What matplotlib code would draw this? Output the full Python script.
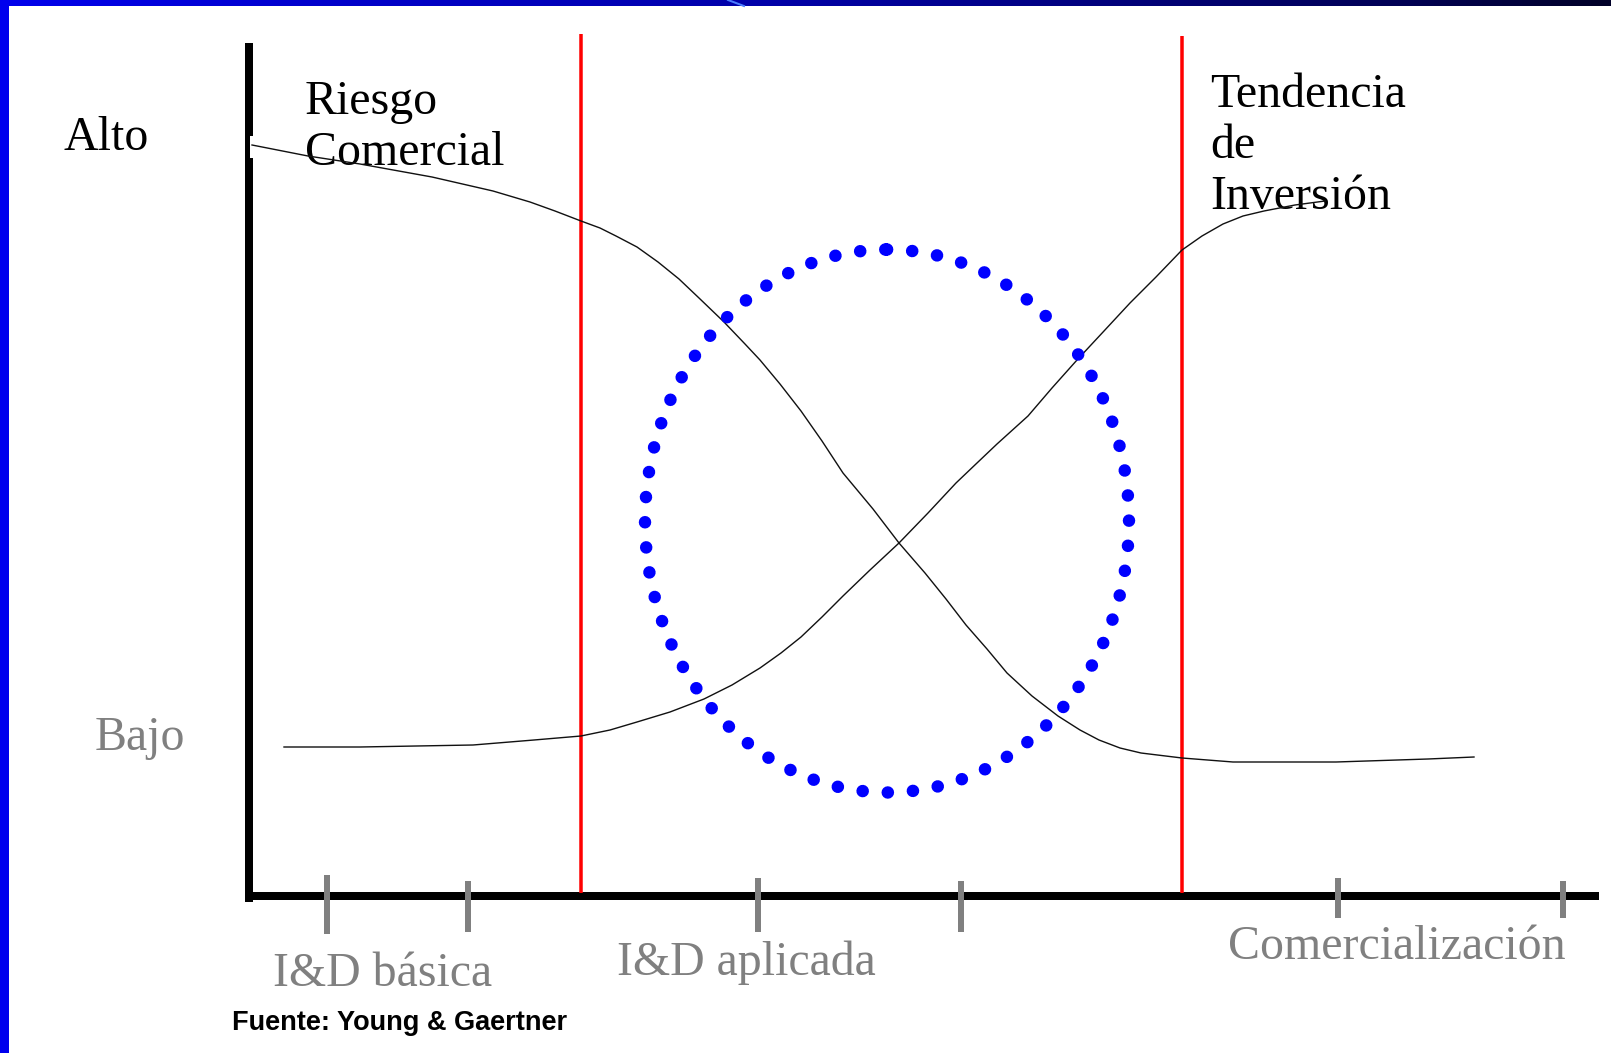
import numpy as np
import matplotlib
matplotlib.use("Agg")
from matplotlib import pyplot as plt
from matplotlib.patches import Ellipse, Rectangle
from matplotlib.colors import LinearSegmentedColormap

# image is drawn in pixel units of the 1611x1053 slide
W, H = 1611, 1053
PX = 0.72  # points per pixel at dpi 100

# Riesgo Comercial (falls from high to low)
risk_x = [252, 308, 360, 432, 493, 530, 555, 581, 600, 616, 637, 658, 679, 699,
          724, 745, 760, 780, 801, 822, 843, 873, 899, 925, 946, 966, 987, 1007,
          1032, 1058, 1080, 1099, 1120, 1141, 1182, 1233, 1336, 1428, 1474]
risk_y = [145, 156, 164, 177, 191, 202, 211, 221, 228, 236, 247, 262, 279, 298,
          322, 344, 360, 384, 411, 441, 473, 509, 543, 573, 599, 625, 649, 673,
          696, 716, 730, 740, 748, 753, 758, 762, 762, 759, 757]

# Tendencia de Inversion (rises from low to high)
invest_x = [284, 360, 473, 534, 581, 610, 637, 670, 704, 732, 760, 781, 801,
            822, 843, 870, 899, 928, 956, 977, 997, 1028, 1052, 1077, 1104,
            1130, 1156, 1182, 1202, 1223, 1243, 1264, 1295, 1325]
invest_y = [747, 747, 745, 740, 736, 730, 722, 712, 699, 685, 668, 653, 637,
            617, 596, 570, 543, 513, 483, 463, 444, 416, 388, 360, 331,
            303, 277, 250, 236, 224, 216, 211, 205, 201]

# stage ticks on the horizontal axis
tick_x = [327, 468, 758, 961, 1338, 1563]
tick_top = [875, 881, 878, 881, 878, 881]
tick_bottom = [934, 932, 932, 932, 918, 918]

# red phase boundaries
bound_x = [581, 1182]
bound_top = [34, 36]

# dotted focus zone
zone_center = (887, 521)
zone_size = (484, 543)

level_labels = ["Alto", "Bajo"]
stage_labels = ["I&D básica", "I&D aplicada", "Comercialización"]
source = "Fuente: Young & Gaertner"

fig = plt.figure(figsize=(W / 100, H / 100), dpi=100)
ax = fig.add_axes([0, 0, 1, 1])

# slide frame: gradient bar on top, blue strip on the left
bar_cmap = LinearSegmentedColormap.from_list(
    "bar", [(0, "#0000ec"), (0.19, "#0000cd"), (0.47, "#0000aa"),
            (0.87, "#000055"), (1, "#000028")])
ax.imshow(np.linspace(0, 1, 400)[None, :], cmap=bar_cmap, aspect="auto",
          extent=(0, W, 6, 0), zorder=1)
ax.plot([728, 744], [0, 6], color="#4a7cff", lw=2 * PX, zorder=2)
ax.add_patch(Rectangle((0, 0), 8.5, H, color="#0000ee", lw=0, zorder=3))
ax.set_xlim(0, W)
ax.set_ylim(H, 0)
ax.axis("off")

# axes of the diagram
ax.plot([249, 249], [43, 902], color="black", lw=8 * PX, solid_capstyle="butt", zorder=4)
ax.plot([245, 1599], [896, 896], color="black", lw=8 * PX, solid_capstyle="butt", zorder=4)
ax.add_patch(Rectangle((250, 136), 5, 22, color="white", lw=0, zorder=5))

for x, t, b in zip(tick_x, tick_top, tick_bottom):
    ax.plot([x, x], [t, b], color="#808080", lw=6 * PX, solid_capstyle="butt", zorder=5)

for x, t in zip(bound_x, bound_top):
    ax.plot([x, x], [t, 893], color="#ff0000", lw=3.5 * PX, solid_capstyle="butt", zorder=6)

ax.plot(risk_x, risk_y, color="#111111", lw=1.4 * PX, zorder=7)
ax.plot(invest_x, invest_y, color="#111111", lw=1.4 * PX, zorder=7)

dot = 12.5
ax.add_patch(Ellipse(zone_center, zone_size[0], zone_size[1], fill=False,
                     edgecolor="#0000ff", lw=dot * PX, capstyle="round",
                     linestyle=(0, (0.01, 25.2 / dot - 0.01)), zorder=8))

serif = dict(family="Liberation Serif", fontsize=34.5, va="baseline", ha="left")
ax.text(64, 150, level_labels[0], color="black", **serif)
ax.text(95, 750, level_labels[1], color="#808080", **serif)
ax.text(305, 114, "Riesgo", color="black", **serif)
ax.text(305, 165, "Comercial", color="black", **serif)
ax.text(1210, 107, "Tendencia", color="black", **serif)
ax.text(1210, 158, "de", color="black", **serif)
ax.text(1210, 209, "Inversión", color="black", **serif)

for label, x, y in zip(stage_labels, [273, 617, 1228], [986, 975, 959]):
    ax.text(x, y, label, color="#808080", **serif)

ax.text(232, 1030, source, family="Liberation Sans", fontweight="bold",
        fontsize=19.5, color="black", va="baseline", ha="left")

fig.savefig("out.png", dpi=100, facecolor="white")
